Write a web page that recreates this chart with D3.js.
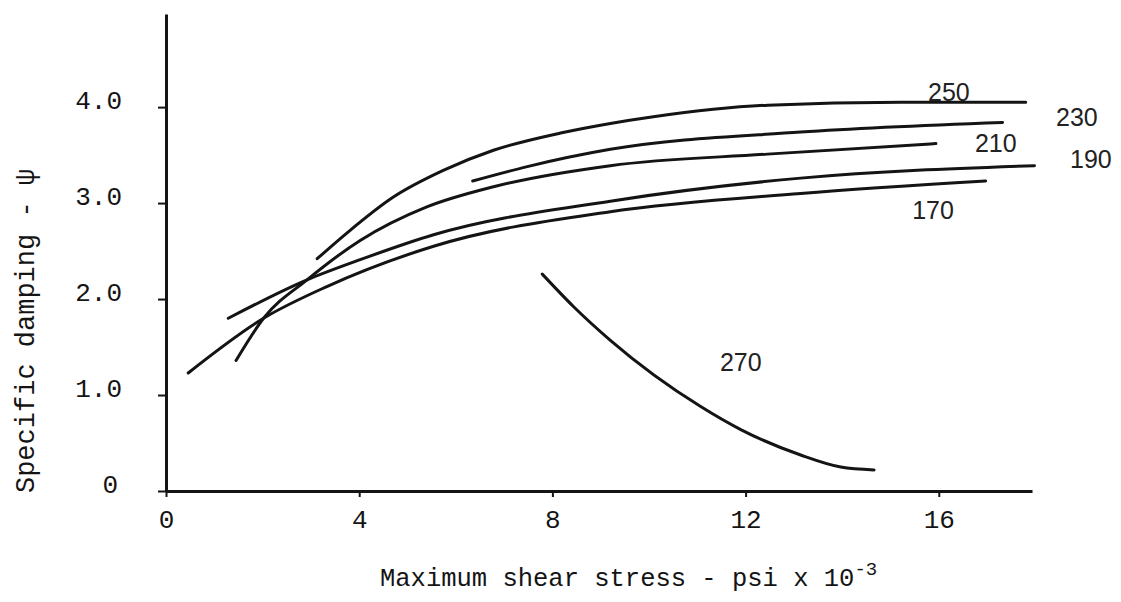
<!DOCTYPE html>
<html>
<head>
<meta charset="utf-8">
<script src="https://cdn.jsdelivr.net/npm/d3@7"></script>
<style>
    body { margin: 0; background: #fff; }
    svg { display: block; }
</style>
</head>
<body>
<div id="chart"></div>
<script>
// values (x = shear stress, psi x 10^-3 ; y = specific damping)
const curve170 = [[0.46, 1.23], [2.02, 1.80], [3.33, 2.13], [5.54, 2.55], [9.20, 2.91], [13.14, 3.10], [16.97, 3.23]];
const curve190 = [[1.29, 1.80], [2.92, 2.20], [4.02, 2.41], [5.54, 2.67], [9.20, 3.02], [13.14, 3.26], [17.98, 3.39]];
const curve210 = [[1.45, 1.36], [2.02, 1.80], [2.92, 2.20], [4.02, 2.61], [5.40, 2.96], [6.78, 3.17], [9.20, 3.39], [12.45, 3.51], [15.94, 3.62]];
const curve230 = [[6.35, 3.23], [7.48, 3.38], [9.20, 3.56], [13.14, 3.74], [17.32, 3.84]];
const curve250 = [[3.13, 2.42], [3.75, 2.69], [4.70, 3.06], [5.74, 3.34], [6.78, 3.55], [8.17, 3.73], [9.20, 3.83], [10.09, 3.90], [12.46, 4.02], [15.21, 4.05], [17.80, 4.05]];
const curve270 = [[7.79, 2.26], [8.44, 1.92], [9.20, 1.57], [11.07, 0.88], [11.90, 0.64], [13.14, 0.375], [13.97, 0.25], [14.66, 0.22]];

const curveNames = ["170", "190", "210", "230", "250", "270"];
const curveData = [curve170, curve190, curve210, curve230, curve250, curve270];
// where each hand-written label sits, in data units
const labelX = [15.88, 19.15, 17.18, 18.86, 16.21, 11.90];
const labelY = [2.93, 3.46, 3.63, 3.90, 4.16, 1.34];

const xTicks = [0, 4, 8, 12, 16];
const yTicks = [0, 1, 2, 3, 4];
const xMax = 17.93;
const yMax = 4.97;

class Chart {
    constructor(elementId) {
        var self = this;
        self.elementId = elementId;
        self.width = 1121;
        self.height = 602;

        self.svg = d3.select("#" + elementId)
            .append("svg")
            .attr("width", self.width)
            .attr("height", self.height);

        self.x = d3.scaleLinear().domain([0, xMax]).range([166, 1032]);
        self.y = d3.scaleLinear().domain([0, yMax]).range([491, 14]);
    }

    update() {
        let self = this;
        let mono = "'Liberation Mono', 'DejaVu Sans Mono', monospace";
        let ink = "#141414";

        // axes
        let xAxis = self.svg.append("g")
            .attr("transform", `translate(0,${self.y(0)})`)
            .call(d3.axisBottom(self.x)
                .tickValues(xTicks)
                .tickSize(6)
                .tickSizeOuter(0)
                .tickPadding(13)
                .tickFormat(d => d));

        let yAxis = self.svg.append("g")
            .attr("transform", `translate(${self.x(0)},0)`)
            .call(d3.axisLeft(self.y)
                .tickValues(yTicks)
                .tickSize(8)
                .tickSizeOuter(0)
                .tickPadding(36)
                .tickFormat(d => d == 0 ? "0" : d3.format(".1f")(d)));

        [xAxis, yAxis].forEach(function (a) {
            a.select(".domain").attr("stroke", ink).attr("stroke-width", 3);
            a.selectAll(".tick line").attr("stroke", ink).attr("stroke-width", 2);
            a.selectAll(".tick text")
                .attr("fill", ink)
                .style("font-family", mono)
                .style("font-size", "26px");
        });
        yAxis.selectAll(".tick text").attr("dy", "0.05em");
        yAxis.selectAll(".tick").filter(d => d == 0).select("text").attr("x", -48);

        // curves
        let line = d3.line()
            .x(d => self.x(d[0]))
            .y(d => self.y(d[1]))
            .curve(d3.curveMonotoneX);

        self.svg.append("g")
            .selectAll("path")
            .data(curveData)
            .enter()
            .append("path")
            .attr("d", line)
            .attr("fill", "none")
            .attr("stroke", ink)
            .attr("stroke-width", 3)
            .attr("stroke-linecap", "round");

        // curve labels
        self.svg.append("g")
            .selectAll("text")
            .data(curveNames)
            .enter()
            .append("text")
            .attr("x", (d, i) => self.x(labelX[i]))
            .attr("y", (d, i) => self.y(labelY[i]))
            .attr("dy", "0.36em")
            .attr("text-anchor", "middle")
            .attr("fill", "#222")
            .style("font-family", "'Liberation Sans', Arial, sans-serif")
            .style("font-size", "25px")
            .text(d => d);

        // axis titles
        let xTitle = self.svg.append("text")
            .attr("x", 380)
            .attr("y", 586)
            .attr("fill", ink)
            .style("font-family", mono)
            .style("font-size", "25.5px")
            .text("Maximum shear stress - psi x 10");
        xTitle.append("tspan")
            .attr("dy", -11)
            .style("font-size", "19px")
            .text("-3");

        self.svg.append("text")
            .attr("transform", "translate(34,331)rotate(-90)")
            .attr("text-anchor", "middle")
            .attr("fill", ink)
            .style("font-family", mono)
            .style("font-size", "27px")
            .text("Specific damping - \u03c8");
    }
}

let chart = new Chart("chart");
chart.update();
</script>
</body>
</html>
